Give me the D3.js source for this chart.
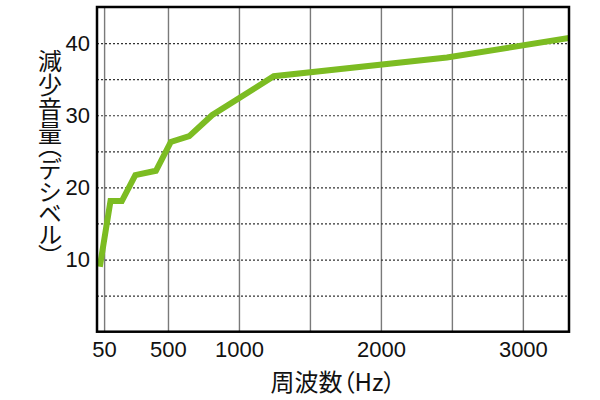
<!DOCTYPE html>
<html>
<head>
<meta charset="utf-8">
<script src="https://cdn.jsdelivr.net/npm/d3@7"></script>
<style>
  html, body { margin: 0; padding: 0; background: #fff; }
  svg { display: block; }
</style>
</head>
<body>
<svg id="chart" width="600" height="400"></svg>
<script>
// ---- data ----
const frequencies = [20, 95, 175, 270, 415, 520, 650, 810, 1245, 2465, 3325];
const reduction   = [9.0, 18.1, 18.1, 21.7, 22.3, 26.3, 27.1, 30.0, 35.4, 38.0, 40.7];
const xGridValues = [50, 500, 1000, 1500, 2000, 2500, 3000];
const xTickLabels = [50, 500, 1000, 2000, 3000];
const yGridValues = [5, 10, 15, 20, 25, 30, 35, 40];
const yTickLabels = [10, 20, 30, 40];
const xTitle = "周波数（Hz）";
const yTitle = "減少音量（デシベル）";

// ---- layout ----
const pLeft = 97, pRight = 569, pTop = 7, pBottom = 331.7;
const svg = d3.select("#chart");
const x = d3.scaleLinear().domain([0, 3325]).range([pLeft, pRight]);
const y = d3.scaleLinear().domain([0, 45]).range([pBottom, pTop]);

// vertical grid (solid gray)
svg.append("g")
  .attr("transform", `translate(0,${pBottom})`)
  .call(d3.axisBottom(x).tickValues(xGridValues).tickSize(-(pBottom - pTop)).tickFormat(""))
  .call(g => g.select(".domain").remove())
  .call(g => g.selectAll(".tick line").attr("stroke", "#7a7a7a").attr("stroke-width", 1.4));

// horizontal grid (dotted)
svg.append("g")
  .attr("transform", `translate(${pLeft},0)`)
  .call(d3.axisLeft(y).tickValues(yGridValues).tickSize(-(pRight - pLeft)).tickFormat(""))
  .call(g => g.select(".domain").remove())
  .call(g => g.selectAll(".tick line").attr("stroke", "#333").attr("stroke-width", 1.2).attr("stroke-dasharray", "2,2"));

// clip
svg.append("clipPath").attr("id", "clip")
  .append("rect").attr("x", pLeft).attr("y", pTop).attr("width", pRight - pLeft).attr("height", pBottom - pTop);

// line
const pts = frequencies.map((f, i) => [f, reduction[i]]);
svg.append("path")
  .datum(pts)
  .attr("clip-path", "url(#clip)")
  .attr("fill", "none")
  .attr("stroke", "#7cbc22")
  .attr("stroke-width", 6)
  .attr("stroke-linejoin", "miter")
  .attr("d", d3.line().x(d => x(d[0])).y(d => y(d[1])));

// frame
svg.append("rect")
  .attr("x", pLeft).attr("y", pTop).attr("width", pRight - pLeft).attr("height", pBottom - pTop)
  .attr("fill", "none").attr("stroke", "#000").attr("stroke-width", 2.5);

// x tick labels
svg.append("g")
  .attr("transform", `translate(0,${pBottom})`)
  .call(d3.axisBottom(x).tickValues(xTickLabels).tickSize(0).tickPadding(10).tickFormat(d3.format("d")))
  .call(g => g.select(".domain").remove())
  .call(g => g.selectAll("text")
    .attr("font-family", "'Liberation Sans', Arial, sans-serif")
    .attr("font-size", 22).attr("fill", "#111"));

// y tick labels
svg.append("g")
  .attr("transform", `translate(${pLeft},0)`)
  .call(d3.axisLeft(y).tickValues(yTickLabels).tickSize(0).tickPadding(7).tickFormat(d3.format("d")))
  .call(g => g.select(".domain").remove())
  .call(g => g.selectAll("text")
    .attr("font-family", "'Liberation Sans', Arial, sans-serif")
    .attr("font-size", 22).attr("fill", "#111"));

// x title
svg.append("text")
  .attr("x", 333).attr("y", 391)
  .attr("text-anchor", "middle")
  .attr("font-family", "'Noto Sans CJK JP', sans-serif")
  .attr("font-size", 24).attr("fill", "#111")
  .style("font-feature-settings", "'palt'")
  .text(xTitle);

// y title (vertical)
svg.append("text")
  .attr("x", 50).attr("y", 49)
  .attr("font-family", "'Noto Sans CJK JP', sans-serif")
  .attr("font-size", 24).attr("fill", "#111")
  .style("writing-mode", "vertical-rl")
  .style("font-feature-settings", "'vpal'")
  .text(yTitle);
</script>
</body>
</html>
